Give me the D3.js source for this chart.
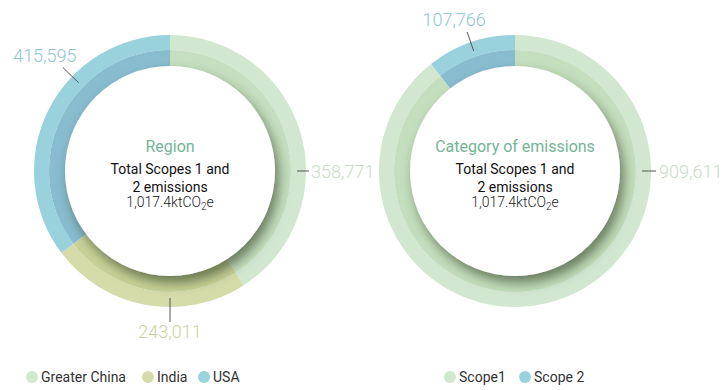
<!DOCTYPE html>
<html>
<head>
<meta charset="utf-8">
<script src="https://cdn.jsdelivr.net/npm/d3@7"></script>
<style>
  html, body { margin: 0; padding: 0; background: #fff; }
  svg { display: block; font-family: Roboto, "Noto Sans", sans-serif; }
</style>
</head>
<body>
<div id="chart"></div>
<script>
// Region donut: arc sizes as drawn, and the value labels printed next to them
const regionNames = ["Greater China", "India", "USA"];
const regionShares = [415595, 243011, 358771];
const regionLabels = ["358,771", "243,011", "415,595"];

// Category donut
const scopeNames = ["Scope1", "Scope 2"];
const scopeValues = [909611, 107766];
const scopeLabels = ["909,611", "107,766"];

const centerLines = ["Total Scopes 1 and", "2 emissions"];

const width = 726;
const height = 390;

const svg = d3
  .select("#chart")
  .append("svg")
  .attr("width", width)
  .attr("height", height);

const defs = svg.append("defs");
defs
  .append("filter")
  .attr("id", "hole-shadow")
  .attr("x", "-30%")
  .attr("y", "-30%")
  .attr("width", "160%")
  .attr("height", "160%")
  .append("feDropShadow")
  .attr("dx", 4)
  .attr("dy", 7)
  .attr("stdDeviation", 6)
  .attr("flood-color", "#2c3a20")
  .attr("flood-opacity", 0.6);

class Donut {
  constructor({ cx, cy, names, values, labels, outerColors, innerColors, title, labelLayout, legendCx }) {
    Object.assign(this, { cx, cy, names, values, labels, outerColors, innerColors, title, labelLayout, legendCx });
    this.rOuter = 136;
    this.rMid = 121;
    this.rInner = 105;
    this.render();
  }

  render() {
    const g = svg.append("g").attr("transform", `translate(${this.cx},${this.cy})`);
    const pie = d3.pie().sort(null).value((d) => d)(this.values);

    const outerArc = d3.arc().innerRadius(this.rMid).outerRadius(this.rOuter);
    const innerArc = d3.arc().innerRadius(this.rInner - 2).outerRadius(this.rMid);

    g.selectAll(".outer")
      .data(pie)
      .join("path")
      .attr("class", "outer")
      .attr("fill", (d, i) => this.outerColors[i])
      .attr("d", outerArc);
    g.selectAll(".inner")
      .data(pie)
      .join("path")
      .attr("class", "inner")
      .attr("fill", (d, i) => this.innerColors[i])
      .attr("d", innerArc);

    // white hole with soft shadow falling on the ring
    g.append("circle")
      .attr("r", this.rInner)
      .attr("fill", "#fff")
      .attr("filter", "url(#hole-shadow)");

    // center text
    g.append("text")
      .attr("y", -19)
      .attr("text-anchor", "middle")
      .attr("font-size", 16)
      .attr("fill", "#74b497")
      .text(this.title);
    g.selectAll(".center-line")
      .data(centerLines)
      .join("text")
      .attr("class", "center-line")
      .attr("y", (d, i) => 3 + i * 18)
      .attr("text-anchor", "middle")
      .attr("font-size", 14)
      .attr("fill", "#111")
      .text((d) => d);
    const unit = g
      .append("text")
      .attr("y", 36)
      .attr("text-anchor", "middle")
      .attr("font-size", 14)
      .attr("font-weight", 300)
      .attr("fill", "#222");
    unit.append("tspan").text("1,017.4ktCO");
    unit.append("tspan").attr("font-size", 10).attr("dy", 3).text("2");
    unit.append("tspan").attr("dy", -3).text("e");

    // leader lines and value labels
    this.labelLayout.forEach((lay, i) => {
      const a = (lay.angle * Math.PI) / 180;
      const p = (r) => [r * Math.sin(a), -r * Math.cos(a)];
      const [x1, y1] = p(127);
      const [x2, y2] = p(lay.r2);
      g.append("line")
        .attr("x1", x1)
        .attr("y1", y1)
        .attr("x2", x2)
        .attr("y2", y2)
        .attr("stroke", "#555")
        .attr("stroke-width", 1);
      g.append("text")
        .attr("x", x2 + lay.dx)
        .attr("y", y2 + lay.dy)
        .attr("text-anchor", lay.anchor)
        .attr("font-size", 18)
        .attr("font-weight", 300)
        .style("fill", d3.color(this.outerColors[i]).darker(0.15))
        .text(this.labels[i]);
    });

    // legend
    const legend = svg.append("g").attr("transform", "translate(0,377)");
    this.names.forEach((name, i) => {
      const x = this.legendCx[i];
      legend
        .append("circle")
        .attr("cx", x)
        .attr("r", 6)
        .attr("fill", this.outerColors[i]);
      legend
        .append("text")
        .attr("x", x + 9)
        .attr("y", 5)
        .attr("font-size", 14)
        .attr("fill", "#333")
        .text(name);
    });
  }
}

new Donut({
  cx: 170,
  cy: 171,
  names: regionNames,
  values: regionShares,
  labels: regionLabels,
  outerColors: ["#d2e7d0", "#d5dcaa", "#99d1dd"],
  innerColors: ["#c5dfc0", "#c9d29a", "#88bccf"],
  title: "Region",
  labelLayout: [
    { angle: 90, r2: 139, dx: 2, dy: 7, anchor: "start" },
    { angle: 180, r2: 151, dx: 0, dy: 16, anchor: "middle" },
    { angle: 314, r2: 149, dx: -18, dy: -6, anchor: "middle" },
  ],
  legendCx: [32, 148, 204],
});

new Donut({
  cx: 515,
  cy: 171,
  names: scopeNames,
  values: scopeValues,
  labels: scopeLabels,
  outerColors: ["#d2e7d0", "#99d1dd"],
  innerColors: ["#c4dfbe", "#88bccf"],
  title: "Category of emissions",
  labelLayout: [
    { angle: 90, r2: 141, dx: 3, dy: 7, anchor: "start" },
    { angle: 341, r2: 147, dx: -13, dy: -6, anchor: "middle" },
  ],
  legendCx: [450, 525],
});
</script>
</body>
</html>
